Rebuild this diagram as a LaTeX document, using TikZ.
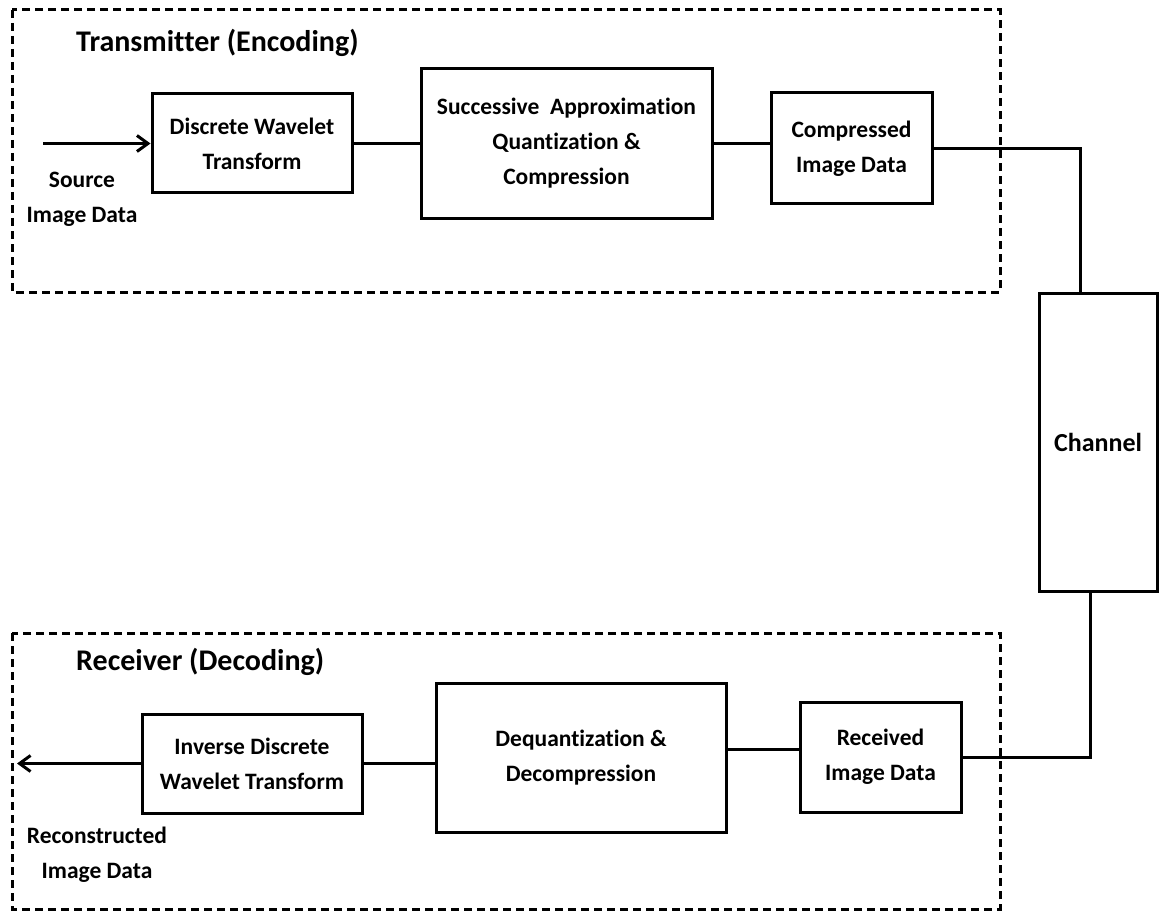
\documentclass[tikz,border=0pt]{standalone}
\usepackage{fontspec}
\setmainfont{Carlito}[Ligatures=NoCommon]
\usetikzlibrary{arrows.meta,calc}
\begin{document}
\begin{tikzpicture}[x=1pt,y=-1pt,
  every node/.style={font=\bfseries\fontsize{23.5}{35}\selectfont, align=center, inner sep=0pt},
  block/.style={draw, line width=3pt, minimum width=#1},
  wire/.style={line width=3pt},
  flow/.style={line width=3pt, -{Straight Barb[length=11pt,width=16pt,line width=3pt]}},
  group/.style={draw, line width=3pt, dash pattern=on 8pt off 5pt},
  title/.style={font=\bfseries\fontsize{30}{36}\selectfont, anchor=west}]
\useasboundingbox (0,0) rectangle (1160,915);

% Transmitter and receiver groups
\draw[group] (12,10) rectangle (1000,292);
\draw[group] (12,633) rectangle (1000,909);
\node[title] (ttx) at (76,43) {Transmitter (Encoding)};
\node[title] (trx) at (76,662) {Receiver (Decoding)};

% Encoding chain
\node[block=200pt, minimum height=99pt] (dwt) at (252,143.5) {Discrete Wavelet\\Transform};
\node[block=291pt, minimum height=149pt] (saq) at (566.5,143.5) {Successive\ \ Approximation\\Quantization \&\\Compression};
\node[block=161pt, minimum height=111pt] (cid) at (851.5,148.5) {Compressed\\Image Data};

% Channel
\node[block=118pt, minimum height=298pt, font=\bfseries\fontsize{26}{30}\selectfont] (chan) at (1098,442) {Channel};

% Decoding chain
\node[block=161pt, minimum height=110pt] (rid) at (880.5,757) {Received\\Image Data};
\node[block=290pt, minimum height=149pt] (dd) at (581,757.5) {Dequantization \&\\Decompression};
\node[block=220pt, minimum height=99pt] (idwt) at (252,763.5) {Inverse Discrete\\Wavelet Transform};

% Source and sink labels
\node (src) at (82,199.5) {Source\\Image Data};
\node (rec) at (97,854.5) {Reconstructed\\Image Data};
\coordinate (inp) at (43,143.5);
\coordinate (outp) at (17,763.5);

% Connectors
\draw[flow] (inp) -- (dwt.west);
\draw[wire] (dwt.east) -- (saq.west);
\draw[wire] (saq.east) -- (saq.east -| cid.west);
\draw[wire] (cid.east) -| ($(chan.north)+(-18,0)$);
\draw[wire] (rid.east) -| ($(chan.south)+(-8,0)$);
\draw[wire] ([yshift=8pt]rid.west) -- ([yshift=8pt]rid.west -| dd.east);
\draw[wire] (idwt.east) -- (idwt.east -| dd.west);
\draw[flow] (idwt.west) -- (outp);
\end{tikzpicture}
\end{document}
